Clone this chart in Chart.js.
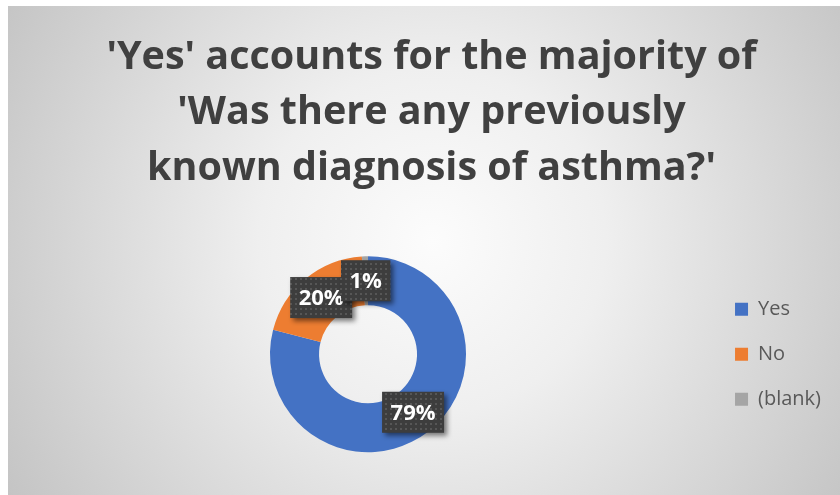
<!DOCTYPE html>
<html>
<head>
<meta charset="utf-8">
<title>Previously known diagnosis of asthma</title>
<script src="https://cdn.jsdelivr.net/npm/chart.js"></script>
<style>
    html, body {
        margin: 0;
        padding: 0;
        background: #ffffff;
        overflow: hidden;
    }
    .chart-box {
        position: absolute;
        left: 8px;
        top: 6px;
        width: 832px;
        height: 489px;
        background: radial-gradient(circle farthest-corner at 51% 48%, #fcfcfc 0%, #efefef 35%, #c4c4c4 100%);
    }
</style>
</head>
<body>
<div class="chart-box">
    <canvas id="asthmaChart"></canvas>
</div>
<script>
// data
const categories = ['Yes', 'No', '(blank)'];
const percentValues = [79, 20, 1];
const sliceColors = ['#4472C4', '#ED7D31', '#A5A5A5'];
const titleLines = [
    "'Yes' accounts for the majority of",
    "'Was there any previously",
    "known diagnosis of asthma?'"
];

Chart.defaults.font.family = '"Open Sans"';

// dark dotted fill used behind the data labels
function makeDotPattern(ctx) {
    const tile = document.createElement('canvas');
    tile.width = 5;
    tile.height = 5;
    const t = tile.getContext('2d');
    t.fillStyle = '#3d3d3d';
    t.fillRect(0, 0, 5, 5);
    t.fillStyle = '#565656';
    t.fillRect(2, 2, 2, 2);
    return ctx.createPattern(tile, 'repeat');
}

const labelBoxes = {
    id: 'labelBoxes',
    afterDatasetsDraw(chart) {
        const ctx = chart.ctx;
        const meta = chart.getDatasetMeta(0);
        const pattern = makeDotPattern(ctx);
        ctx.save();
        ctx.font = 'bold 22px "Open Sans"';
        ctx.textAlign = 'center';
        ctx.textBaseline = 'middle';
        meta.data.forEach((arc, i) => {
            const pos = arc.tooltipPosition();
            const text = percentValues[i] + '%';
            const w = ctx.measureText(text).width + 17;
            const h = 41;
            ctx.shadowColor = 'rgba(0, 0, 0, 0.5)';
            ctx.shadowBlur = 5;
            ctx.shadowOffsetX = 3;
            ctx.shadowOffsetY = 3;
            ctx.fillStyle = pattern;
            ctx.fillRect(pos.x - w / 2, pos.y - h / 2, w, h);
            ctx.shadowColor = 'transparent';
            ctx.fillStyle = '#ffffff';
            ctx.fillText(text, pos.x, pos.y + 1);
        });
        ctx.restore();
    }
};

// the title is centred a little right of the plot box in the original
const nudgeTitle = {
    id: 'nudgeTitle',
    afterLayout(chart) {
        if (chart.titleBlock) {
            chart.titleBlock.left += 3;
            chart.titleBlock.right += 3;
        }
    }
};

const ctx = document.getElementById('asthmaChart').getContext('2d');
new Chart(ctx, {
    type: 'doughnut',
    data: {
        labels: categories,
        datasets: [
            {
                data: percentValues,
                backgroundColor: sliceColors,
                borderWidth: 0,
                hoverOffset: 0
            }
        ]
    },
    options: {
        responsive: true,
        maintainAspectRatio: false,
        animation: false,
        radius: 98,
        cutout: '50%',
        layout: {
            padding: { left: 18, right: 9, top: 0, bottom: 44 }
        },
        plugins: {
            title: {
                display: true,
                text: titleLines,
                color: '#404040',
                font: { size: 39.5, weight: 'bold', lineHeight: 1.4 },
                padding: { top: 24, bottom: 61.5 }
            },
            legend: {
                position: 'right',
                fullSize: false,
                labels: {
                    boxWidth: 13,
                    boxHeight: 13,
                    padding: 25,
                    color: '#595959',
                    font: { size: 20 }
                }
            },
            tooltip: { enabled: false }
        }
    },
    plugins: [labelBoxes, nudgeTitle]
});
</script>
</body>
</html>
